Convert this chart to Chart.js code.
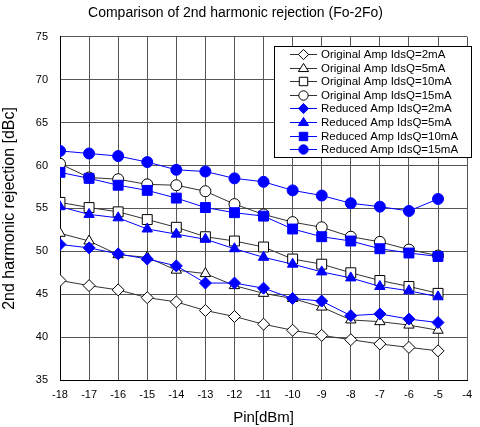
<!DOCTYPE html>
<html>
<head>
<meta charset="utf-8">
<script src="https://cdn.jsdelivr.net/npm/chart.js@4.4.0/dist/chart.umd.min.js"></script>
<style>
html, body { margin: 0; padding: 0; background: #fff; }
</style>
</head>
<body>
<canvas id="chart" width="480" height="427"></canvas>
<script>
// Pin [dBm]
const pin = [-18, -17, -16, -15, -14, -13, -12, -11, -10, -9, -8, -7, -6, -5];

// 2nd harmonic rejection [dBc]
const orig2  = [46.6, 46.0, 45.5, 44.6, 44.1, 43.1, 42.4, 41.5, 40.8, 40.2, 39.7, 39.2, 38.8, 38.4];
const orig5  = [52.1, 51.2, 49.6, 49.3, 47.8, 47.4, 46.0, 45.1, 44.5, 43.5, 42.0, 41.8, 41.4, 40.8];
const orig10 = [55.7, 55.1, 54.6, 53.7, 52.8, 51.7, 51.2, 50.5, 49.1, 48.5, 47.5, 46.6, 45.9, 45.1];
const orig15 = [60.2, 58.6, 58.4, 57.8, 57.7, 57.0, 55.5, 54.3, 53.4, 52.8, 51.7, 51.1, 50.2, 49.5];
const red2   = [50.8, 50.4, 49.7, 49.1, 48.3, 46.3, 46.3, 45.7, 44.5, 44.2, 42.5, 42.7, 42.1, 41.7];
const red5   = [55.2, 54.3, 53.9, 52.6, 52.0, 51.4, 50.3, 49.3, 48.5, 47.6, 46.9, 45.9, 45.4, 44.7];
const red10  = [59.2, 58.5, 57.7, 57.1, 56.2, 55.1, 54.5, 54.1, 52.6, 51.7, 51.2, 50.3, 49.8, 49.4];
const red15  = [61.7, 61.4, 61.1, 60.4, 59.5, 59.3, 58.5, 58.1, 57.1, 56.5, 55.6, 55.2, 54.7, 56.1];

const seriesNames = [
    'Original Amp IdsQ=2mA', 'Original Amp IdsQ=5mA', 'Original Amp IdsQ=10mA', 'Original Amp IdsQ=15mA',
    'Reduced Amp IdsQ=2mA', 'Reduced Amp IdsQ=5mA', 'Reduced Amp IdsQ=10mA', 'Reduced Amp IdsQ=15mA'
];
const seriesValues = [orig2, orig5, orig10, orig15, red2, red5, red10, red15];
const pointStyles = ['rectRot', 'triangle', 'rect', 'circle', 'rectRot', 'triangle', 'rect', 'circle'];

const FONT = "'Liberation Sans', Arial, sans-serif";
const BLACK_LINE = '#333333';
const BLUE = '#0000ff';

function pointSize(style) {
    if (style === 'rect') return 7;
    if (style === 'triangle') return 6;
    if (style === 'rectRot') return 6;
    return 5.5;
}

const datasets = seriesNames.map(function(name, i) {
    const reduced = i >= 4;
    return {
        label: name,
        data: pin.map((x, j) => ({ x: x, y: seriesValues[i][j] })),
        borderColor: reduced ? BLUE : BLACK_LINE,
        borderWidth: 1,
        pointStyle: pointStyles[i],
        pointRadius: pointSize(pointStyles[i]),
        pointBackgroundColor: reduced ? BLUE : '#ffffff',
        pointBorderColor: reduced ? BLUE : '#000000',
        pointBorderWidth: 1,
        tension: 0,
        fill: false,
        order: reduced ? 1 : 2
    };
});

// draw a marker for the legend box
function drawMarker(ctx, style, x, y, r, fill, stroke) {
    ctx.beginPath();
    if (style === 'circle') {
        ctx.arc(x, y, r, 0, Math.PI * 2);
    } else if (style === 'rect') {
        const s = r * Math.SQRT1_2;
        ctx.rect(x - s, y - s, 2 * s, 2 * s);
    } else if (style === 'rectRot') {
        ctx.moveTo(x, y - r);
        ctx.lineTo(x + r, y);
        ctx.lineTo(x, y + r);
        ctx.lineTo(x - r, y);
        ctx.closePath();
    } else if (style === 'triangle') {
        ctx.moveTo(x, y - r);
        ctx.lineTo(x + r, y + r * 0.6);
        ctx.lineTo(x - r, y + r * 0.6);
        ctx.closePath();
    }
    ctx.fillStyle = fill;
    ctx.fill();
    ctx.strokeStyle = stroke;
    ctx.lineWidth = 1;
    ctx.stroke();
}

const boxLegend = {
    id: 'boxLegend',
    afterDraw(chart) {
        const ctx = chart.ctx;
        const left = 274, top = 46, width = 197, height = 111;
        ctx.save();
        ctx.fillStyle = '#ffffff';
        ctx.fillRect(left, top, width, height);
        ctx.strokeStyle = '#000000';
        ctx.lineWidth = 1;
        ctx.strokeRect(left + 0.5, top + 0.5, width, height);
        ctx.font = '11.5px ' + FONT;
        ctx.textBaseline = 'middle';
        chart.data.datasets.forEach(function(ds, i) {
            const y = Math.round(top + 8 + i * 13.6) + 0.5;
            ctx.strokeStyle = ds.borderColor;
            ctx.beginPath();
            ctx.moveTo(290, y);
            ctx.lineTo(317, y);
            ctx.stroke();
            drawMarker(ctx, ds.pointStyle, 303.5, y, ds.pointRadius * 0.85, ds.pointBackgroundColor, ds.pointBorderColor);
            ctx.fillStyle = '#000000';
            ctx.fillText(ds.label, 321, y);
        });
        ctx.restore();
    }
};

const ctx = document.getElementById('chart').getContext('2d');
const chart = new Chart(ctx, {
    type: 'line',
    data: { datasets: datasets },
    options: {
        responsive: false,
        animation: false,
        devicePixelRatio: 1,
        layout: { padding: { left: 0, right: 9, top: 0, bottom: 0 } },
        plugins: {
            legend: { display: false },
            tooltip: { enabled: false },
            title: {
                display: true,
                text: 'Comparison of 2nd harmonic rejection (Fo-2Fo)',
                color: '#000',
                font: { family: FONT, size: 14, weight: 'normal' },
                padding: { top: 5, bottom: 15 }
            }
        },
        scales: {
            x: {
                type: 'linear',
                min: -18,
                max: -4,
                ticks: { stepSize: 1, color: '#000', font: { family: FONT, size: 11 }, padding: 8 },
                grid: { color: '#555555', drawTicks: false },
                border: { color: '#000000' },
                title: {
                    display: true,
                    text: 'Pin[dBm]',
                    color: '#000',
                    font: { family: FONT, size: 15 },
                    padding: { top: 4, bottom: 0 }
                },
                afterFit: function(scale) { scale.height = 47; }
            },
            y: {
                min: 35,
                max: 75,
                ticks: { stepSize: 5, color: '#000', font: { family: FONT, size: 11 }, padding: 12 },
                grid: { color: '#555555', drawTicks: false },
                border: { color: '#000000' },
                title: {
                    display: true,
                    text: '2nd harmonic rejection [dBc]',
                    color: '#000',
                    font: { family: FONT, size: 16 },
                    padding: { top: 0, bottom: 2 }
                },
                afterFit: function(scale) { scale.width = 60; }
            }
        }
    },
    plugins: [boxLegend]
});
</script>
</body>
</html>
